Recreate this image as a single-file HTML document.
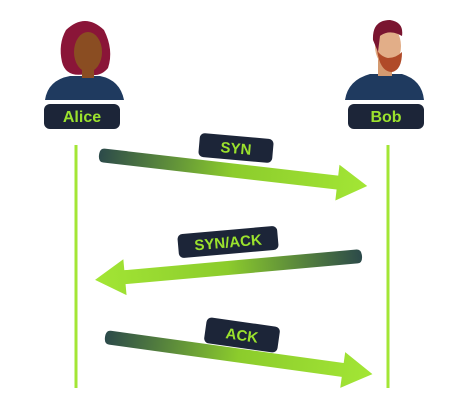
<!DOCTYPE html>
<html><head><style>
html,body{margin:0;padding:0;background:#fff;}
svg{display:block;}
text{font-family:"Liberation Sans",sans-serif;font-weight:bold;fill:#9be22d;}
</style></head><body>
<svg width="451" height="417" viewBox="0 0 451 417">
<defs>
<linearGradient id="g" x1="0" y1="0" x2="270" y2="0" gradientUnits="userSpaceOnUse">
<stop offset="0" stop-color="#2c4a4a"/><stop offset="0.5" stop-color="#8ccc2c"/><stop offset="1" stop-color="#a3e635"/>
</linearGradient>
</defs>
<rect x="74.5" y="145" width="3" height="243" fill="#a3e635"/>
<rect x="386.5" y="145" width="3" height="243" fill="#a3e635"/>

<!-- Alice -->
<path d="M45 100 Q48 80 70 76 L100 76 Q120 80 124 100 Z" fill="#1f3a5f"/>
<path d="M66 30 Q85 12 104 30 Q114 50 108 68 Q100 78 86 74 Q66 78 62 62 Q58 44 66 30Z" fill="#8a1538"/>
<ellipse cx="88" cy="52" rx="14" ry="20" fill="#8a4d22"/>
<rect x="82" y="66" width="12" height="12" fill="#8a4d22"/>
<rect x="44" y="104" width="76" height="25" rx="6" fill="#1c2538"/>
<text x="82" y="122" font-size="16" text-anchor="middle">Alice</text>

<!-- Bob -->
<path d="M345 100 Q348 80 370 74 L402 74 Q422 80 424 100 Z" fill="#1f3a5f"/>
<rect x="378" y="58" width="14" height="18" fill="#d49a70"/>
<ellipse cx="388" cy="46" rx="13" ry="20" fill="#e2ae88"/>
<path d="M373 40 Q372 20 390 20 Q404 22 402 36 L398 34 Q388 30 380 36 L378 52 Z" fill="#7a1530"/>
<path d="M377 50 Q380 72 392 72 Q402 70 402 52 Q396 58 388 58 Q380 56 377 50Z" fill="#b04a28"/>
<rect x="348" y="104" width="76" height="25" rx="6" fill="#1c2538"/>
<text x="386" y="122" font-size="16" text-anchor="middle">Bob</text>

<!-- SYN -->
<g transform="translate(99,155) rotate(6.6)">
<path d="M5 -7 L240 -7 L240 -18 L270 0 L240 18 L240 7 L5 7 Q0 7 0 0 Q0 -7 5 -7Z" fill="url(#g)"/>
</g>
<g transform="translate(236,148) rotate(5)">
<rect x="-37" y="-12" width="74" height="24" rx="5" fill="#1c2538"/>
<text x="0" y="5.5" font-size="15" text-anchor="middle">SYN</text>
</g>

<!-- SYN/ACK -->
<g transform="translate(362,256) rotate(174.9)">
<path d="M5 -7 L238 -7 L238 -18 L268 0 L238 18 L238 7 L5 7 Q0 7 0 0 Q0 -7 5 -7Z" fill="url(#g)"/>
</g>
<g transform="translate(228,242) rotate(-5)">
<rect x="-50" y="-12" width="100" height="24" rx="5" fill="#1c2538"/>
<text x="0" y="5.5" font-size="15" text-anchor="middle">SYN/ACK</text>
</g>

<!-- ACK -->
<g transform="translate(105,337) rotate(7.9)">
<path d="M5 -7 L240 -7 L240 -18 L270 0 L240 18 L240 7 L5 7 Q0 7 0 0 Q0 -7 5 -7Z" fill="url(#g)"/>
</g>
<g transform="translate(242,335) rotate(8)">
<rect x="-37" y="-13" width="74" height="26" rx="5" fill="#1c2538"/>
<text x="0" y="5.5" font-size="15" text-anchor="middle">ACK</text>
</g>
</svg>
</body></html>
